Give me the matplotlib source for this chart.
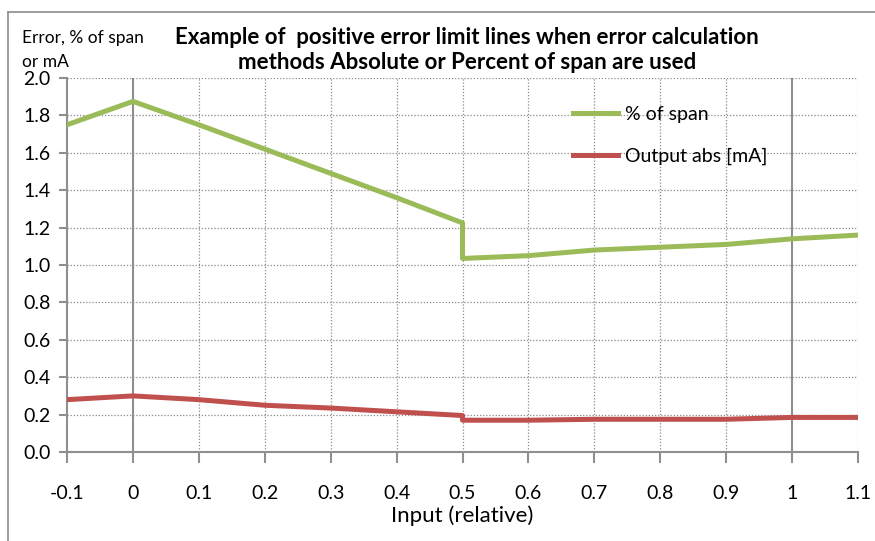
import matplotlib.pyplot as plt
from matplotlib.lines import Line2D
import numpy as np

# Data
x_span = [-0.1, 0.0, 0.1, 0.2, 0.3, 0.4, 0.5, 0.5, 0.6, 0.7, 0.8, 0.9, 1.0, 1.1]
pct_span = [1.75, 1.875, 1.75, 1.62, 1.49, 1.36, 1.225, 1.035, 1.05, 1.08, 1.095, 1.11, 1.14, 1.16]

x_abs = [-0.1, 0.0, 0.1, 0.2, 0.3, 0.4, 0.5, 0.5, 0.6, 0.7, 0.8, 0.9, 1.0, 1.1]
out_abs = [0.28, 0.30, 0.28, 0.25, 0.235, 0.215, 0.195, 0.17, 0.17, 0.175, 0.175, 0.175, 0.185, 0.185]

x_ticks = [-0.1, 0, 0.1, 0.2, 0.3, 0.4, 0.5, 0.6, 0.7, 0.8, 0.9, 1, 1.1]
x_tick_labels = ["-0.1", "0", "0.1", "0.2", "0.3", "0.4", "0.5", "0.6", "0.7", "0.8", "0.9", "1", "1.1"]
y_ticks = [0.0, 0.2, 0.4, 0.6, 0.8, 1.0, 1.2, 1.4, 1.6, 1.8, 2.0]

plt.rcParams['font.family'] = ['Lato', 'DejaVu Sans']

fig = plt.figure(figsize=(8.75, 5.41), dpi=100)
ax = fig.add_axes([0.0766, 0.1645, 0.9040, 0.6913])

# outer chart frame
fig.add_artist(Line2D([8 / 875, 8 / 875], [0, 1 - 12 / 541], transform=fig.transFigure,
                      color="#8c8c8c", lw=1.2))
fig.add_artist(Line2D([8 / 875, 1], [1 - 12 / 541, 1 - 12 / 541], transform=fig.transFigure,
                      color="#8c8c8c", lw=1.2))

grid_col = "#8a8a8a"
# dotted grid
for xv in x_ticks:
    if xv in (0, 1):
        ax.axvline(xv, color="#8f8f8f", lw=1.5, zorder=1)
    elif xv != -0.1:
        ax.axvline(xv, color=grid_col, lw=0.9, ls=(0, (1, 1.5)), zorder=1)
for yv in y_ticks[1:]:
    ax.axhline(yv, color=grid_col, lw=0.9, ls=(0, (1, 1.5)), zorder=1)

ax.plot(x_span, pct_span, color="#9BBB59", lw=3.6, label="% of span", zorder=3)
ax.plot(x_abs, out_abs, color="#C0504D", lw=3.6, label="Output abs [mA]", zorder=3)

ax.set_xlim(-0.1, 1.1)
ax.set_ylim(0, 2.0)
ax.set_xticks(x_ticks)
ax.set_xticklabels(x_tick_labels)
ax.set_yticks(y_ticks)
ax.set_yticklabels([f"{v:.1f}" for v in y_ticks])

for side in ("top", "right"):
    ax.spines[side].set_visible(False)
for side in ("left", "bottom"):
    ax.spines[side].set_color("#8f8f8f")
    ax.spines[side].set_linewidth(1.5)

ax.tick_params(axis="x", length=8, width=1.5, color="#8f8f8f", pad=16, labelsize=14)
ax.tick_params(axis="y", length=6, width=1.5, color="#8f8f8f", pad=6, labelsize=14)

ax.set_xlabel("Input (relative)", fontsize=16, labelpad=2)

fig.text(22 / 875, 1 - 50 / 541, "Error, % of span\nor mA", fontsize=12.5,
         ha="left", va="center", linespacing=1.55)
fig.text(467 / 875, 1 - 50 / 541,
         "Example of  positive error limit lines when error calculation\n"
         "methods Absolute or Percent of span are used",
         fontsize=16, fontweight="bold", ha="center", va="center", linespacing=1.25)

ax.legend(loc="upper left", bbox_to_anchor=(0.64, 0.925), frameon=False,
          fontsize=14, handlelength=2.3, handletextpad=0.35, labelspacing=1.25,
          borderpad=0, borderaxespad=0)

fig.savefig("out.png", dpi=100)
